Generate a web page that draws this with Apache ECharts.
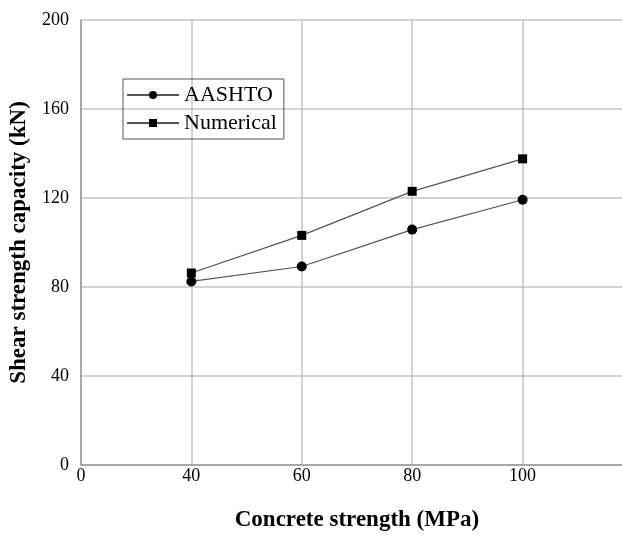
<!DOCTYPE html>
<html>
<head>
<meta charset="utf-8">
<script src="https://cdn.jsdelivr.net/npm/echarts@6/dist/echarts.min.js"></script>
<style>
  html, body { margin: 0; padding: 0; background: #fff; overflow: hidden; }
  #chart { width: 622px; height: 537px; }
</style>
</head>
<body>
<div id="chart"></div>
<script>
// Concrete strength (MPa) at which the capacity was evaluated
const strengths = [40, 60, 80, 100];
// Shear strength capacity (kN)
const aashto = [82.5, 89.2, 105.8, 119.2];
const numerical = [86.3, 103.2, 123.0, 137.6];
// x axis: the origin tick is drawn one step left of 40 (broken scale), labelled 0
const xTickPositions = [20, 40, 60, 80, 100];
const xTickLabels = ['0', '40', '60', '80', '100'];
const xMin = 20, xMax = 118;
// y axis range and step (kN)
const yMin = 0, yMax = 200, yStep = 40;

const serif = 'Liberation Serif, Times New Roman, serif';

const pairs = (vals) => strengths.map((s, i) => [s, vals[i]]);

const chart = echarts.init(document.getElementById('chart'), null, { renderer: 'canvas' });

chart.setOption({
  animation: false,
  backgroundColor: '#fff',
  grid: { left: 77, top: 20, right: 0, bottom: 66, containLabel: false },
  legend: {
    orient: 'vertical',
    left: 123,
    top: 79,
    padding: [5, 7, 5, 3],
    itemGap: 6,
    itemWidth: 52,
    itemHeight: 10,
    borderColor: '#555',
    borderWidth: 1,
    textStyle: { fontFamily: serif, fontSize: 22, color: '#000' },
    data: ['AASHTO', 'Numerical']
  },
  xAxis: {
    type: 'value',
    min: xMin,
    max: xMax,
    name: 'Concrete strength (MPa)',
    nameLocation: 'middle',
    nameGap: 44,
    nameTextStyle: { fontFamily: serif, fontSize: 23, fontWeight: 'bold', color: '#000', padding: [0, 0, 0, 11] },
    axisLine: { show: true, lineStyle: { color: '#999', width: 1.5 } },
    axisTick: { show: false, customValues: xTickPositions },
    axisLabel: {
      fontFamily: serif, fontSize: 18, color: '#000', margin: 2,
      customValues: xTickPositions,
      formatter: (v) => xTickLabels[xTickPositions.indexOf(v)] ?? ''
    },
    splitLine: { show: true, lineStyle: { color: '#c4c4c4', width: 1.5 } }
  },
  yAxis: {
    type: 'value',
    min: yMin,
    max: yMax,
    interval: yStep,
    name: 'Shear strength capacity (kN)',
    nameLocation: 'middle',
    nameGap: 44,
    nameTextStyle: { fontFamily: serif, fontSize: 23, fontWeight: 'bold', color: '#000' },
    axisLine: { show: true, lineStyle: { color: '#999', width: 1.5 } },
    axisTick: { show: false },
    axisLabel: { fontFamily: serif, fontSize: 18, color: '#000', margin: 12 },
    splitLine: { show: true, lineStyle: { color: '#c4c4c4', width: 1.5 } }
  },
  series: [
    {
      name: 'AASHTO',
      type: 'line',
      data: pairs(aashto),
      symbol: 'circle',
      symbolSize: 10,
      itemStyle: { color: '#000' },
      lineStyle: { color: '#555', width: 1.2 },
      z: 3
    },
    {
      name: 'Numerical',
      type: 'line',
      data: pairs(numerical),
      symbol: 'rect',
      symbolSize: 9,
      itemStyle: { color: '#000' },
      lineStyle: { color: '#555', width: 1.2 },
      z: 2
    }
  ]
});
</script>
</body>
</html>
